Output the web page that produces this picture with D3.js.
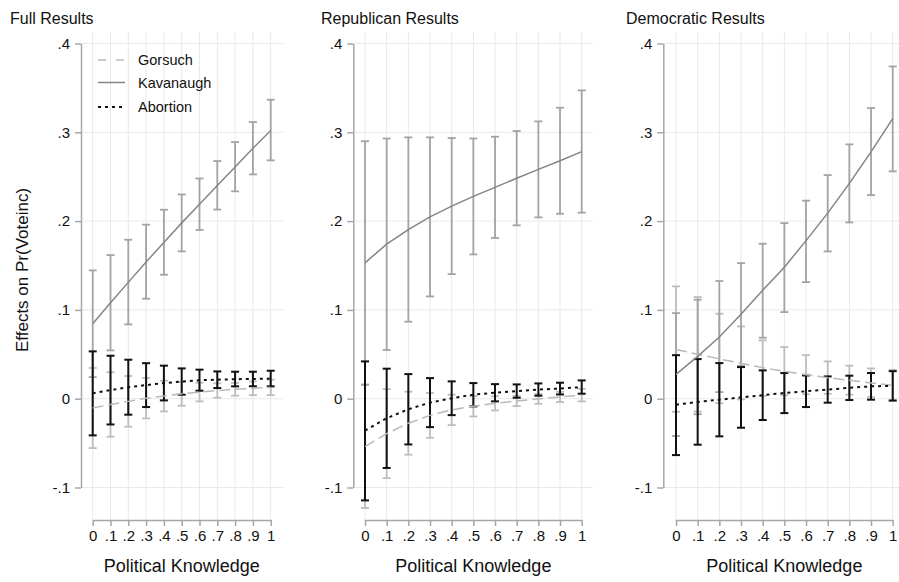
<!DOCTYPE html>
<html>
<head>
<meta charset="utf-8">
<script src="https://cdn.jsdelivr.net/npm/d3@7"></script>
<style>
  html, body { margin: 0; padding: 0; background: #fff; }
  svg { display: block; font-family: "Liberation Sans", Arial, sans-serif; }
</style>
</head>
<body>
<svg id="chart" width="899" height="582"></svg>
<script>
// Political knowledge grid (x values) and axis labels
const knowledge = [0, 0.1, 0.2, 0.3, 0.4, 0.5, 0.6, 0.7, 0.8, 0.9, 1];
const xTickLabels = ["0", ".1", ".2", ".3", ".4", ".5", ".6", ".7", ".8", ".9", "1"];
const yTicks = [-0.1, 0, 0.1, 0.2, 0.3, 0.4];
const yTickLabels = ["-.1", "0", ".1", ".2", ".3", ".4"];
const panelTitles = ["Full Results", "Republican Results", "Democratic Results"];
const seriesNames = ["Gorsuch", "Kavanaugh", "Abortion"];

// Full sample
const fullGorsuch   = [-0.0105, -0.0065, -0.003, 0.0005, 0.003, 0.0055, 0.0075, 0.0092, 0.0106, 0.0117, 0.0127];
const fullGorsuchLo = [-0.0556, -0.0428, -0.0316, -0.0222, -0.0143, -0.0079, -0.003, 0.0011, 0.0034, 0.004, 0.004];
const fullGorsuchHi = [0.0346, 0.0298, 0.0256, 0.0232, 0.0203, 0.0189, 0.018, 0.0173, 0.0178, 0.0194, 0.0214];
const fullKavanaugh   = [0.0845, 0.108, 0.131, 0.154, 0.176, 0.198, 0.219, 0.240, 0.261, 0.282, 0.302];
const fullKavanaughLo = [0.0243, 0.0544, 0.0837, 0.1126, 0.1396, 0.1659, 0.190, 0.213, 0.2335, 0.2526, 0.2684];
const fullKavanaughHi = [0.1445, 0.1617, 0.179, 0.196, 0.2128, 0.230, 0.248, 0.2676, 0.289, 0.3115, 0.3367];
const fullAbortion   = [0.006, 0.0097, 0.0129, 0.0153, 0.0176, 0.0193, 0.0208, 0.0214, 0.022, 0.0222, 0.0227];
const fullAbortionLo = [-0.0413, -0.029, -0.018, -0.0094, -0.0019, 0.0045, 0.009, 0.012, 0.0139, 0.014, 0.0139];
const fullAbortionHi = [0.0533, 0.0484, 0.0439, 0.040, 0.0372, 0.0341, 0.0327, 0.0307, 0.0304, 0.0304, 0.0315];

// Republicans
const repGorsuch   = [-0.054, -0.0393, -0.0276, -0.0188, -0.0126, -0.0085, -0.0052, -0.0025, -0.0003, 0.002, 0.004];
const repGorsuchLo = [-0.123, -0.0894, -0.063, -0.044, -0.0297, -0.020, -0.0132, -0.0083, -0.0057, -0.0038, -0.003];
const repGorsuchHi = [0.0155, 0.0108, 0.0079, 0.0064, 0.0045, 0.003, 0.0028, 0.0033, 0.0051, 0.0078, 0.011];
const repKavanaugh   = [0.153, 0.174, 0.1905, 0.2048, 0.2169, 0.2278, 0.238, 0.2483, 0.2582, 0.268, 0.2783];
const repKavanaughLo = [0.016, 0.0548, 0.0867, 0.1152, 0.1403, 0.1625, 0.181, 0.1952, 0.2042, 0.2083, 0.2095];
const repKavanaughHi = [0.290, 0.293, 0.2943, 0.2943, 0.2935, 0.293, 0.295, 0.3014, 0.3123, 0.3277, 0.3472];
const repAbortion   = [-0.036, -0.022, -0.0119, -0.0044, 0.0005, 0.0045, 0.0067, 0.0086, 0.0103, 0.0114, 0.013];
const repAbortionLo = [-0.1145, -0.078, -0.0515, -0.032, -0.0185, -0.0087, -0.003, 0.0011, 0.0034, 0.0048, 0.0056];
const repAbortionHi = [0.042, 0.0338, 0.0277, 0.0232, 0.0195, 0.0176, 0.0164, 0.0161, 0.0172, 0.018, 0.0206];

// Democrats
const demGorsuch   = [0.0555, 0.050, 0.0448, 0.0398, 0.035, 0.0308, 0.027, 0.0237, 0.0207, 0.0178, 0.015];
const demGorsuchLo = [-0.0147, -0.0145, -0.005, -0.0008, 0.003, 0.004, 0.005, 0.0055, 0.0045, 0.0019, -0.0027];
const demGorsuchHi = [0.1265, 0.1144, 0.0957, 0.0814, 0.0657, 0.0582, 0.0491, 0.042, 0.0372, 0.0341, 0.0326];
const demKavanaugh   = [0.0274, 0.0476, 0.0695, 0.095, 0.122, 0.148, 0.178, 0.209, 0.2425, 0.278, 0.3153];
const demKavanaughLo = [-0.042, -0.0175, 0.0074, 0.037, 0.0687, 0.0975, 0.1313, 0.1659, 0.1985, 0.2293, 0.256];
const demKavanaughHi = [0.0964, 0.1115, 0.1325, 0.1527, 0.1745, 0.1977, 0.223, 0.2518, 0.2864, 0.3273, 0.3742];
const demAbortion   = [-0.0068, -0.0036, -0.0012, 0.0015, 0.004, 0.0064, 0.0084, 0.0103, 0.0122, 0.0139, 0.0145];
const demAbortionLo = [-0.0635, -0.0518, -0.0424, -0.0327, -0.024, -0.0162, -0.0094, -0.0045, -0.0015, -0.0011, -0.002];
const demAbortionHi = [0.049, 0.0446, 0.0401, 0.0356, 0.0319, 0.0289, 0.0262, 0.0251, 0.0259, 0.0289, 0.031];

const panelData = [
  [[fullGorsuch, fullGorsuchLo, fullGorsuchHi], [fullKavanaugh, fullKavanaughLo, fullKavanaughHi], [fullAbortion, fullAbortionLo, fullAbortionHi]],
  [[repGorsuch, repGorsuchLo, repGorsuchHi], [repKavanaugh, repKavanaughLo, repKavanaughHi], [repAbortion, repAbortionLo, repAbortionHi]],
  [[demGorsuch, demGorsuchLo, demGorsuchHi], [demKavanaugh, demKavanaughLo, demKavanaughHi], [demAbortion, demAbortionLo, demAbortionHi]]
];

// Styles per series: Gorsuch, Kavanaugh, Abortion
const styles = [
  { line: "#b9b9b9", ci: "#bdbdbd", dash: "11,5", width: 1.5 },
  { line: "#858585", ci: "#a3a3a3", dash: null, width: 1.5 },
  { line: "#111111", ci: "#111111", dash: "3,4", width: 2 }
];

// Panel geometry
const panels = [
  { titleX: 10,  axisX: 81,    x0: 92.7, x1: 270.7, right: 283 },
  { titleX: 321, axisX: 353.3, x0: 365,  x1: 581.7, right: 593 },
  { titleX: 626, axisX: 663.3, x0: 676,  x1: 892.7, right: 905 }
];
const plotTop = 32, xAxisY = 520;
const y = d3.scaleLinear().domain([-0.1, 0.4]).range([487.5, 43.5]);

const svg = d3.select("#chart");
const gridColor = "#e9e9e9", axisColor = "#a6a6a6", textColor = "#111";

panels.forEach((p, pi) => {
  const x = d3.scaleLinear().domain([0, 1]).range([p.x0, p.x1]);
  const g = svg.append("g");

  // title
  g.append("text").attr("x", p.titleX).attr("y", 24)
    .attr("font-size", 16).attr("fill", textColor).text(panelTitles[pi]);

  // grid
  g.selectAll("line.hgrid").data(yTicks).join("line")
    .attr("x1", p.axisX).attr("x2", p.right)
    .attr("y1", d => y(d)).attr("y2", d => y(d))
    .attr("stroke", gridColor).attr("stroke-width", 1);
  g.selectAll("line.vgrid").data(knowledge).join("line")
    .attr("x1", d => x(d)).attr("x2", d => x(d))
    .attr("y1", plotTop).attr("y2", xAxisY)
    .attr("stroke", gridColor).attr("stroke-width", 1);

  // y axis
  const yAxis = d3.axisLeft(y).tickValues(yTicks)
    .tickFormat((d, i) => yTickLabels[i]).tickSize(6).tickSizeOuter(0).tickPadding(5);
  const ya = g.append("g").attr("transform", `translate(${p.axisX},0)`).call(yAxis);
  ya.select(".domain").attr("stroke", axisColor).attr("stroke-width", 1.5);
  ya.selectAll(".tick line").attr("stroke", axisColor).attr("stroke-width", 1.5);
  ya.selectAll(".tick text").attr("font-size", 15).attr("fill", textColor)
    .attr("font-family", "Liberation Sans, Arial, sans-serif");

  // x axis
  const xAxis = d3.axisBottom(x).tickValues(knowledge)
    .tickFormat((d, i) => xTickLabels[i]).tickSize(6).tickSizeOuter(0).tickPadding(4);
  const xa = g.append("g").attr("transform", `translate(0,${xAxisY})`).call(xAxis);
  xa.select(".domain").attr("stroke", axisColor).attr("stroke-width", 1.5);
  xa.selectAll(".tick line").attr("stroke", axisColor).attr("stroke-width", 1.5);
  xa.selectAll(".tick text").attr("font-size", 15).attr("fill", textColor)
    .attr("font-family", "Liberation Sans, Arial, sans-serif");

  // x axis title
  g.append("text").attr("x", (p.x0 + p.x1) / 2).attr("y", 572)
    .attr("text-anchor", "middle").attr("font-size", 18).attr("fill", textColor)
    .text("Political Knowledge");

  // confidence intervals
  const capHalf = 4;
  panelData[pi].forEach((s, si) => {
    const st = styles[si];
    const [est, lo, hi] = s;
    const ci = g.append("g").attr("stroke", st.ci).attr("stroke-width", si === 2 ? 2 : 1.8).attr("fill", "none");
    knowledge.forEach((k, i) => {
      ci.append("line").attr("x1", x(k)).attr("x2", x(k)).attr("y1", y(lo[i])).attr("y2", y(hi[i]));
      ci.append("line").attr("x1", x(k) - capHalf).attr("x2", x(k) + capHalf).attr("y1", y(lo[i])).attr("y2", y(lo[i]));
      ci.append("line").attr("x1", x(k) - capHalf).attr("x2", x(k) + capHalf).attr("y1", y(hi[i])).attr("y2", y(hi[i]));
    });
  });

  // estimate lines
  panelData[pi].forEach((s, si) => {
    const st = styles[si];
    const line = d3.line().x((d, i) => x(knowledge[i])).y(d => y(d));
    g.append("path").attr("d", line(s[0])).attr("fill", "none")
      .attr("stroke", st.line).attr("stroke-width", st.width)
      .attr("stroke-dasharray", st.dash);
  });
});

// legend (inside first panel)
const legend = svg.append("g");
const legendRows = [60, 82.5, 107];
seriesNames.forEach((name, i) => {
  const st = styles[i];
  legend.append("line").attr("x1", 98).attr("x2", 125)
    .attr("y1", legendRows[i]).attr("y2", legendRows[i])
    .attr("stroke", st.line).attr("stroke-width", st.width)
    .attr("stroke-dasharray", i === 0 ? "8,10" : st.dash);
  legend.append("text").attr("x", 138).attr("y", legendRows[i])
    .attr("dy", "0.35em").attr("font-size", 14.5).attr("fill", textColor).text(name);
});

// y axis title
svg.append("text").attr("transform", "translate(28,270) rotate(-90)")
  .attr("text-anchor", "middle").attr("font-size", 17).attr("fill", textColor)
  .text("Effects on Pr(Voteinc)");
</script>
</body>
</html>
